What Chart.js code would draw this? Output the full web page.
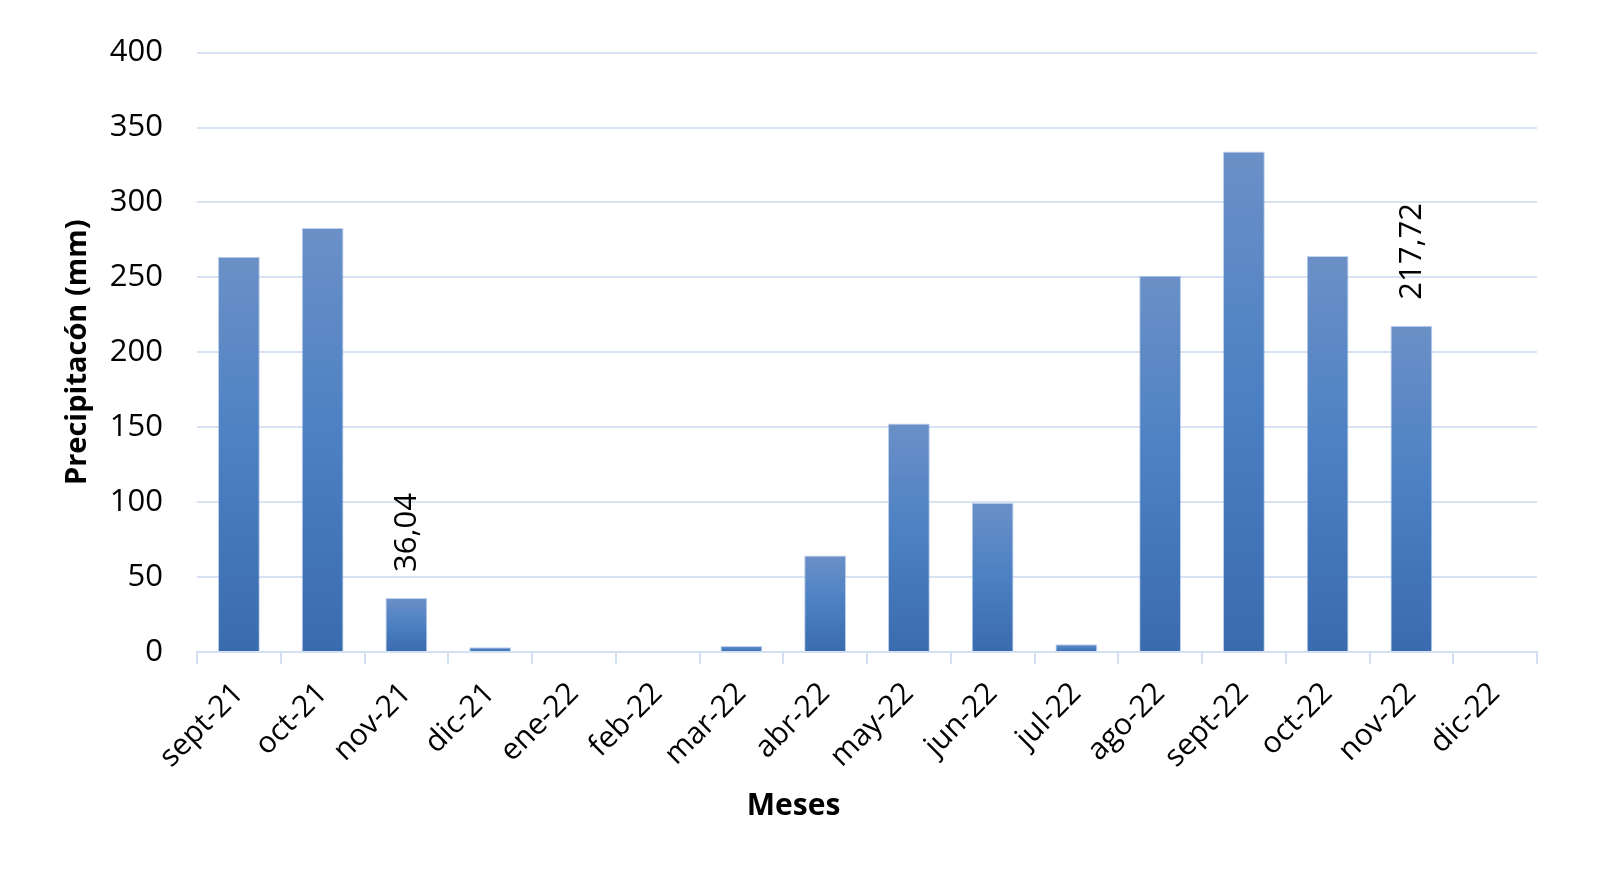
<!DOCTYPE html>
<html>
<head>
<meta charset="utf-8">
<script src="https://cdn.jsdelivr.net/npm/chart.js@4"></script>
<style>
  html, body { margin: 0; padding: 0; background: #fff; }
  #wrap { width: 1613px; height: 869px; }
</style>
</head>
<body>
<div id="wrap"><canvas id="bar-chart"></canvas></div>
<script>
const meses = ["sept-21","oct-21","nov-21","dic-21","ene-22","feb-22","mar-22","abr-22",
               "may-22","jun-22","jul-22","ago-22","sept-22","oct-22","nov-22","dic-22"];
const precipitacion = [263.8, 282.9, 36.04, 3.1, 0, 0, 4.0, 64.4, 152.4, 99.6, 5.1, 251.1, 334, 264.2, 217.72, null];
const etiquetados = [2, 14];   // bars that show their value
const yTicks = [0, 50, 100, 150, 200, 250, 300, 350, 400];
const tituloX = 'Meses';
const tituloY = 'Precipitacón (mm)';

const FONT = "'Open Sans', sans-serif";

function barGradient(ctx) {
  const chart = ctx.chart;
  const { chartArea, scales } = chart;
  if (!chartArea || ctx.type !== 'data') return '#4f81bd';
  const v = ctx.raw || 0;
  const top = scales.y.getPixelForValue(v);
  const bottom = scales.y.getPixelForValue(0);
  const g = chart.ctx.createLinearGradient(0, top, 0, Math.max(bottom, top + 1));
  g.addColorStop(0, '#6b90c7');
  g.addColorStop(0.5, '#4b80c3');
  g.addColorStop(1, '#3a6bae');
  return g;
}

// value labels (rotated) + x axis title, which sits left of the plot centre in the original
const extras = {
  id: 'extras',
  afterDraw(chart) {
    const ctx = chart.ctx;
    const meta = chart.getDatasetMeta(0);
    ctx.save();
    ctx.font = "31px " + FONT;
    ctx.fillStyle = '#000';
    ctx.textAlign = 'left';
    ctx.textBaseline = 'middle';
    etiquetados.forEach(i => {
      const bar = meta.data[i];
      const txt = precipitacion[i].toFixed(2).replace('.', ',');
      ctx.save();
      ctx.translate(bar.x + 1, bar.y - 26);
      ctx.rotate(-Math.PI / 2);
      ctx.fillText(txt, 0, 0);
      ctx.restore();
    });
    ctx.font = "bold 30px " + FONT;
    ctx.textAlign = 'center';
    ctx.fillText(tituloX, chart.width * 0.492, chart.height - 63);
    ctx.restore();
  }
};

new Chart(document.getElementById("bar-chart"), {
  type: 'bar',
  data: {
    labels: meses,
    datasets: [{
      data: precipitacion,
      backgroundColor: barGradient,
      borderColor: 'rgba(150,180,225,0.6)',
      borderWidth: 1,
      barPercentage: 0.5,
      categoryPercentage: 1
    }]
  },
  plugins: [extras],
  options: {
    responsive: true,
    maintainAspectRatio: false,
    animation: false,
    layout: { padding: { left: 58, right: 76, top: 34, bottom: 82 } },
    plugins: {
      legend: { display: false },
      tooltip: { enabled: false }
    },
    scales: {
      x: {
        offset: true,
        grid: {
          offset: true,
          drawOnChartArea: false,
          drawTicks: true,
          tickLength: 12,
          color: '#d3e0f1',
          lineWidth: 2
        },
        border: { display: true, color: '#d3e0f1', width: 2 },
        ticks: {
          color: '#000',
          font: { family: FONT, size: 30 },
          minRotation: 45,
          maxRotation: 45,
          padding: 12
        }
      },
      y: {
        min: 0,
        max: 400,
        afterBuildTicks: axis => { axis.ticks = yTicks.map(v => ({ value: v })); },
        afterFit: axis => { axis.width = 139; },
        grid: { color: '#d7e3f3', lineWidth: 2, drawTicks: false },
        border: { display: false },
        ticks: {
          color: '#000',
          font: { family: FONT, size: 31 },
          padding: 34
        },
        title: {
          display: true,
          text: tituloY,
          color: '#000',
          font: { family: FONT, size: 29, weight: 'bold' },
          padding: { top: 2, bottom: 0 }
        }
      }
    }
  }
});
</script>
</body>
</html>
